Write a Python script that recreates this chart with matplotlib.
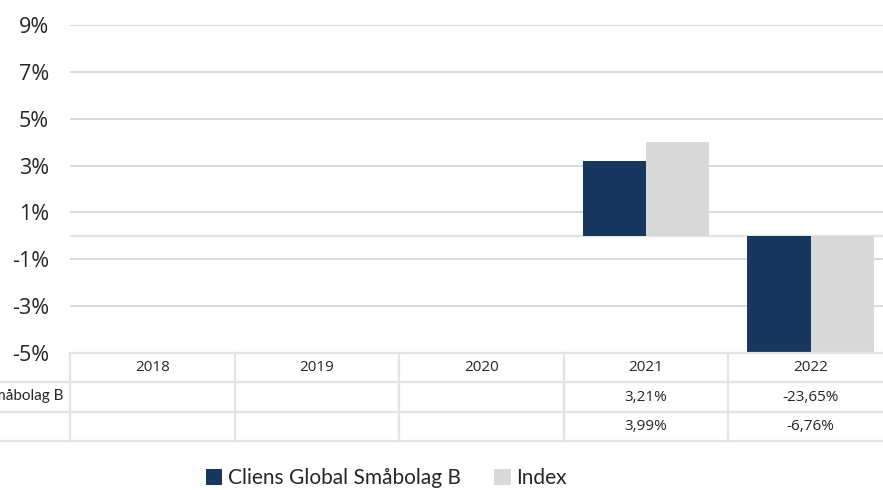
import matplotlib.pyplot as plt
from matplotlib.patches import Patch

# chart data (percent)
years = ["2018", "2019", "2020", "2021", "2022"]
fund_name = "Cliens Global Småbolag B"
index_name = "Index"
fund_values = [None, None, None, 3.21, -23.65]
index_values = [None, None, None, 3.99, -6.76]
y_ticks = [-5, -3, -1, 1, 3, 5, 7, 9]

blue = "#17375e"
gray = "#d9d9d9"
grid_col = "#d0d0d0"
table_col = "#e3e3e3"
text_col = "#262626"
tick_font = ["Open Sans", "DejaVu Sans"]
legend_font = ["Lato", "DejaVu Sans"]

W, H = 883, 490
fig = plt.figure(figsize=(W / 100, H / 100), dpi=100)

# plot area in pixels: x 70..893, y 25..353
left, right, top, bottom = 70, 893, 25, 353
ax = fig.add_axes([left / W, 1 - bottom / H, (right - left) / W, (bottom - top) / H])

n = len(years)
bw = 0.385
xs = list(range(n))
for i in xs:
    if fund_values[i] is not None:
        ax.bar(i - bw / 2, fund_values[i], width=bw, color=blue, zorder=3)
    if index_values[i] is not None:
        ax.bar(i + bw / 2, index_values[i], width=bw, color=gray, zorder=3)

ax.set_xlim(-0.5, n - 0.5)
ax.set_ylim(-5, 9)
ax.set_yticks(y_ticks)
ax.set_yticklabels([f"{t}%" for t in y_ticks], family=tick_font, fontsize=15.5, color=text_col)
ax.tick_params(axis="y", length=0, pad=15)
ax.set_xticks([])
for s in ax.spines.values():
    s.set_visible(False)
for t in y_ticks[1:]:
    ax.axhline(t, color=grid_col, lw=1.1, zorder=1)
ax.axhline(0, color=table_col, lw=1.6, zorder=2)

# data table below the plot: y 353..441
tbot = 441
tax = fig.add_axes([left / W, 1 - tbot / H, (right - left) / W, (tbot - bottom) / H])
tax.set_xlim(-0.5, n - 0.5)
tax.set_ylim(3, 0)
tax.axis("off")

lw = 1.6
for r in range(4):
    x0 = -0.5 if r == 0 else -0.5 - left / ((right - left) / n)
    tax.plot([x0, n - 0.5], [r, r], color=table_col, lw=lw, clip_on=False)
for c in range(n + 1):
    tax.plot([c - 0.5, c - 0.5], [0, 3], color=table_col, lw=lw, clip_on=False)

def fmt(v):
    return f"{v:.2f}%".replace(".", ",")

for i, yr in enumerate(years):
    tax.text(i, 0.5, yr, ha="center", va="center", fontsize=11, family=tick_font, color=text_col)
    if fund_values[i] is not None:
        tax.text(i, 1.5, fmt(fund_values[i]), ha="center", va="center", fontsize=11,
                 family=tick_font, color=text_col)
    if index_values[i] is not None:
        tax.text(i, 2.5, fmt(index_values[i]), ha="center", va="center", fontsize=11,
                 family=tick_font, color=text_col)

# row label (cut off at the left edge as in the original)
fig.text(63 / W, 1 - 396 / H, fund_name, ha="right", va="center", fontsize=11,
         family=legend_font, color=text_col)

handles = [Patch(facecolor=blue, edgecolor="none", label=fund_name),
           Patch(facecolor=gray, edgecolor="none", label=index_name)]
fig.legend(handles=handles, loc="center", bbox_to_anchor=(386 / W, 1 - 478 / H), ncol=2,
           frameon=False, prop={"family": legend_font, "size": 15},
           handlelength=0.8, handleheight=0.8, handletextpad=0.25, columnspacing=1.6,
           labelcolor=text_col)

fig.savefig("out.png", dpi=100)
